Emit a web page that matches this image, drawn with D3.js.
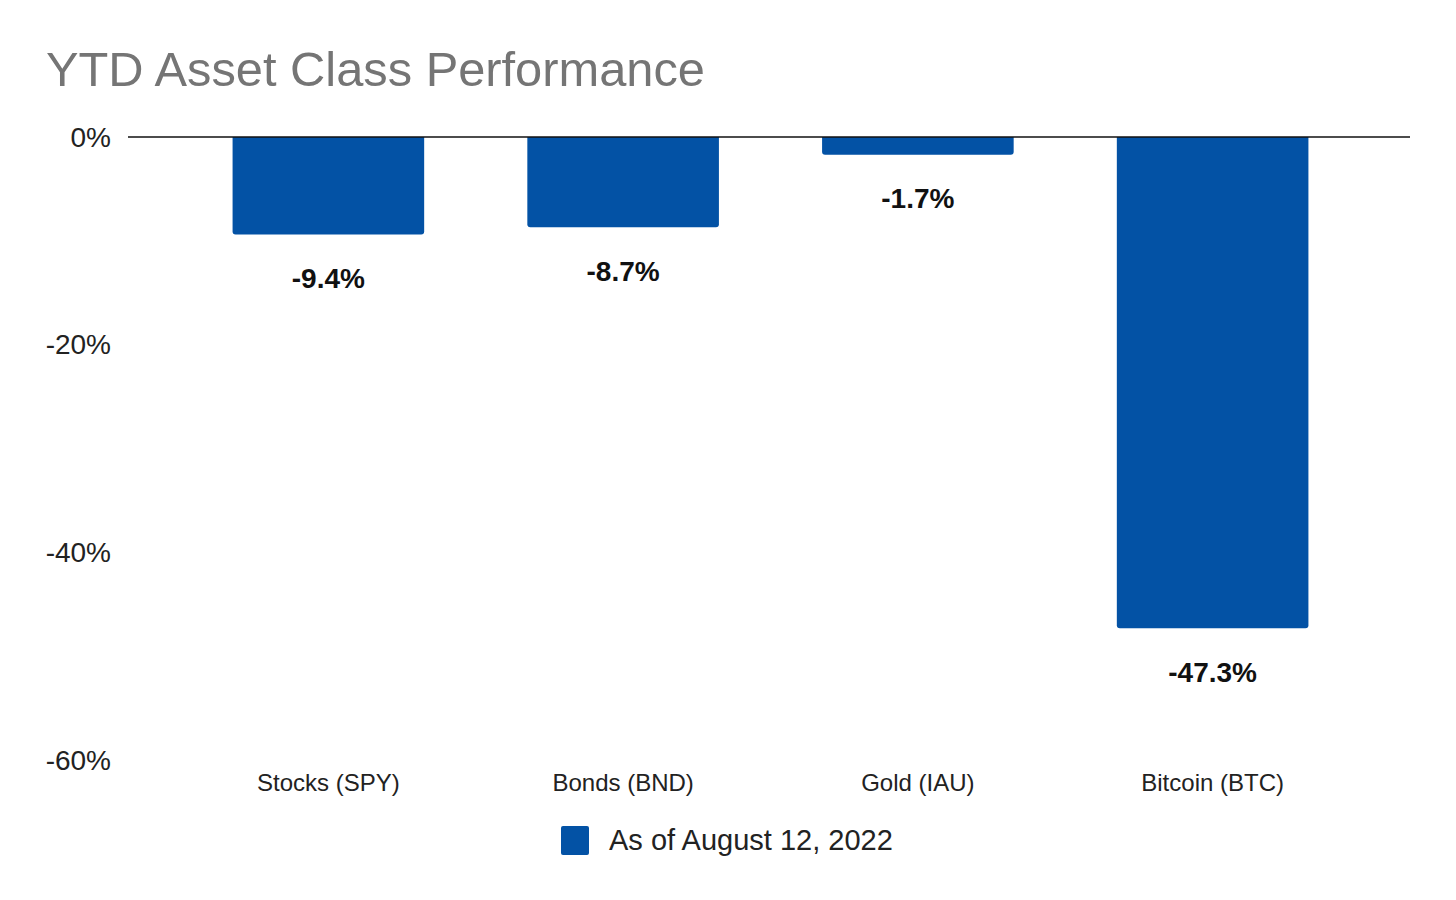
<!DOCTYPE html>
<html>
<head>
<meta charset="utf-8">
<script src="https://cdn.jsdelivr.net/npm/d3@7"></script>
<style>
  body { margin: 0; background: #fff; }
  svg { font-family: "Liberation Sans", Arial, sans-serif; }
</style>
</head>
<body>
<div id="chart"></div>
<script>
// data
const categories = ["Stocks (SPY)", "Bonds (BND)", "Gold (IAU)", "Bitcoin (BTC)"];
const values = [-9.4, -8.7, -1.7, -47.3];
const yTicks = [0, -20, -40, -60];
const seriesName = "As of August 12, 2022";

const width = 1456, height = 900;
const barColor = "#0352a5";

const svg = d3.select("#chart").append("svg")
    .attr("width", width)
    .attr("height", height);

svg.append("text")
    .attr("x", 46)
    .attr("y", 86)
    .attr("fill", "#757575")
    .style("font-size", "48.8px")
    .text("YTD Asset Class Performance");

const x = d3.scaleBand()
    .domain(categories)
    .range([181, 1360])
    .paddingInner(0.35)
    .paddingOuter(0.175);

const y = d3.scaleLinear()
    .domain([0, -60])
    .range([137, 760]);

// y tick labels (no gridlines except zero)
svg.append("g").selectAll("text")
    .data(yTicks)
    .join("text")
    .attr("x", 111)
    .attr("y", d => y(d))
    .attr("dy", "0.35em")
    .attr("text-anchor", "end")
    .attr("fill", "#222")
    .style("font-size", "28px")
    .text(d => d + "%");

// bars, rounded on the bottom
const r = 3;
svg.append("g").selectAll("path")
    .data(values)
    .join("path")
    .attr("fill", barColor)
    .attr("d", (d, i) => {
        const x0 = x(categories[i]), x1 = x0 + x.bandwidth();
        const y0 = y(0), y1 = y(d);
        return `M${x0},${y0}H${x1}V${y1 - r}Q${x1},${y1} ${x1 - r},${y1}H${x0 + r}Q${x0},${y1} ${x0},${y1 - r}Z`;
    });

// zero line
svg.append("line")
    .attr("x1", 128).attr("x2", 1410)
    .attr("y1", y(0)).attr("y2", y(0))
    .attr("stroke", "#111")
    .attr("stroke-width", 1.6);

// value labels
svg.append("g").selectAll("text")
    .data(values)
    .join("text")
    .attr("x", (d, i) => x(categories[i]) + x.bandwidth() / 2)
    .attr("y", d => y(d) + 44)
    .attr("dy", "0.35em")
    .attr("text-anchor", "middle")
    .attr("fill", "#111")
    .style("font-size", "28px")
    .style("font-weight", "bold")
    .text(d => d.toFixed(1) + "%");

// category labels
svg.append("g").selectAll("text")
    .data(categories)
    .join("text")
    .attr("x", d => x(d) + x.bandwidth() / 2)
    .attr("y", 791)
    .attr("text-anchor", "middle")
    .attr("fill", "#222")
    .style("font-size", "24px")
    .text(d => d);

// legend
const legend = svg.append("g");
legend.append("rect")
    .attr("x", 561).attr("y", 826)
    .attr("width", 28).attr("height", 29)
    .attr("rx", 2)
    .attr("fill", barColor);
legend.append("text")
    .attr("x", 609)
    .attr("y", 850)
    .attr("fill", "#222")
    .style("font-size", "29px")
    .text(seriesName);
</script>
</body>
</html>
